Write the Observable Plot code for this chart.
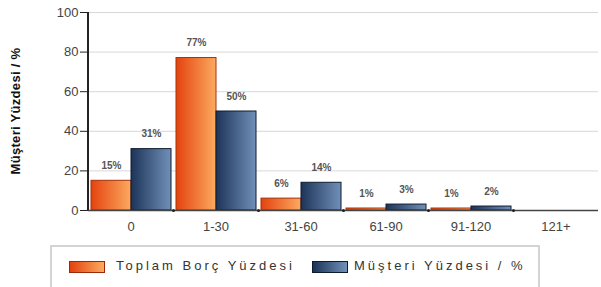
<!DOCTYPE html>
<html><head><meta charset="utf-8">
<script src="https://cdn.jsdelivr.net/npm/d3@7"></script>
<script src="https://cdn.jsdelivr.net/npm/@observablehq/plot@0.6"></script>
<style>
body{margin:0;background:#fff;font-family:"Liberation Sans",Arial,sans-serif;}
#wrap{position:relative;width:601px;height:287px;overflow:hidden;}
#legend{position:absolute;left:50px;top:245px;width:490px;height:44px;border:2px solid #d4d4d4;box-sizing:border-box;}
.sw{position:absolute;top:14px;width:36px;height:12px;box-sizing:border-box;}
.lt{position:absolute;top:11px;font-size:13px;letter-spacing:3px;color:#333;white-space:nowrap;}
</style></head>
<body><div id="wrap"><div id="chart"></div>
<div id="legend">
<div class="sw" style="left:17px;background:linear-gradient(to right,#e2420e,#fbab62);border:1.5px solid #9a2a08"></div>
<div class="lt" id="l1" style="left:64px"></div>
<div class="sw" style="left:260px;background:linear-gradient(to right,#1c3356,#7191ba);border:1.5px solid #0e1a2e"></div>
<div class="lt" id="l2" style="left:302px"></div>
</div></div>
<script>
const categories = ["0","1-30","31-60","61-90","91-120","121+"];
const seriesNames = ["Toplam Borç Yüzdesi","Müşteri Yüzdesi / %"];
const debtPct = [15,77,6,1,1,0];
const customerPct = [31,50,14,3,2,0];
const yTicks = [0,20,40,60,80,100];
const yLabel = "Müşteri Yüzdesi / %";

document.getElementById("l1").textContent = seriesNames[0];
document.getElementById("l2").textContent = seriesNames[1];

const data = [];
categories.forEach((c,i)=>{
  data.push({cat:c, series:seriesNames[0], value:debtPct[i]});
  data.push({cat:c, series:seriesNames[1], value:customerPct[i]});
});

const chart = Plot.plot({
  width:601, height:243,
  marginLeft:88, marginRight:3, marginTop:12, marginBottom:33,
  style:{fontFamily:"Liberation Sans, Arial, sans-serif", background:"transparent"},
  fx:{domain:categories, padding:0, label:null},
  x:{domain:seriesNames, paddingInner:0, paddingOuter:0.06, axis:null},
  y:{domain:[0,100], ticks:yTicks},
  marks:[
    Plot.gridY(yTicks.slice(1), {stroke:"#d8d8d8", strokeOpacity:1}),
    Plot.barY(data.filter(d=>d.series===seriesNames[0]), {fx:"cat", x:"series", y:"value", fill:"url(#gOrange)", stroke:"#a3300a", strokeWidth:1}),
    Plot.barY(data.filter(d=>d.series===seriesNames[1]), {fx:"cat", x:"series", y:"value", fill:"url(#gBlue)", stroke:"#0f1b30", strokeWidth:1}),
    Plot.text(data.filter(d=>d.value>0), {fx:"cat", x:"series", y:"value", text:d=>d.value+"%", dy:-15, fill:"#555", fontSize:10, fontWeight:"bold"}),
    Plot.ruleY([0], {stroke:"#444", strokeWidth:1.5}),
    Plot.dot(categories.slice(1), {fx:d=>d, frameAnchor:"bottom-left", r:1.5, fill:"#222", stroke:null}),
    Plot.axisFx({anchor:"bottom", tickSize:0, tickPadding:11, fontSize:13, fill:"#444", label:null}),
    Plot.axisY({ticks:yTicks, tickSize:8, tickPadding:2, fontSize:13, fill:"#444", stroke:"#222", label:null})
  ]
});
const svg = d3.select(chart);
svg.insert("defs", ":first-child").html(`
<linearGradient id="gOrange" x1="0" x2="1" y1="0" y2="0"><stop offset="0" stop-color="#e4430f"/><stop offset="1" stop-color="#fbaa60"/></linearGradient>
<linearGradient id="gBlue" x1="0" x2="1" y1="0" y2="0"><stop offset="0" stop-color="#1d3458"/><stop offset="1" stop-color="#7090b9"/></linearGradient>`);
// y axis line from the library's scales
const ys = chart.scale("y"), fxs = chart.scale("fx");
const x0 = fxs.range[0];
svg.append("line").attr("x1",x0).attr("x2",x0).attr("y1",ys.apply(0)).attr("y2",ys.apply(100))
  .attr("stroke","#222").attr("stroke-width",2);
svg.append("text").attr("transform",`translate(20,${(ys.apply(0)+ys.apply(100))/2}) rotate(-90)`).attr("text-anchor","middle")
  .attr("font-size",13).attr("font-weight","bold").attr("letter-spacing",0.3).attr("fill","#111").text(yLabel);
document.getElementById("chart").appendChild(chart);
</script></body></html>
